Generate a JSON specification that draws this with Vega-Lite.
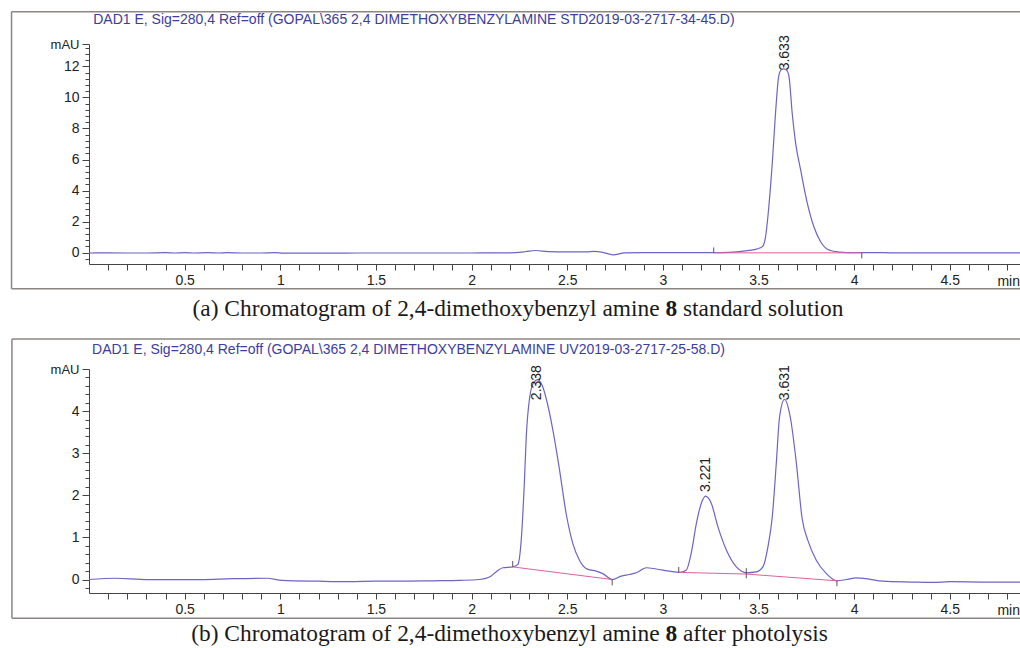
{
  "$schema": "https://vega.github.io/schema/vega-lite/v6.json",
  "background": "white",
  "padding": {"left": 10, "top": 11, "right": 0, "bottom": 0},
  "spacing": 105,
  "bounds": "flush",
  "config": {
    "view": {"stroke": null},
    "font": "Liberation Sans",
    "axis": {
      "grid": false,
      "title": null,
      "labelFont": "Liberation Sans",
      "labelFontSize": 14,
      "labelColor": "#222222",
      "domainColor": "#444444",
      "tickColor": "#444444",
      "labelFlush": false,
      "labelOverlap": false,
      "labelBound": false
    }
  },
  "datasets": {
    "traceA": [
      {"t": 0.0, "v": -0.03}, {"t": 0.1, "v": -0.02}, {"t": 0.2, "v": -0.03}, {"t": 0.3, "v": -0.03},
      {"t": 0.4, "v": -0.01}, {"t": 0.45, "v": -0.03}, {"t": 0.5, "v": -0.01}, {"t": 0.55, "v": -0.03},
      {"t": 0.62, "v": -0.01}, {"t": 0.68, "v": -0.03}, {"t": 0.72, "v": -0.01}, {"t": 0.8, "v": -0.03},
      {"t": 0.9, "v": -0.03}, {"t": 0.97, "v": -0.01}, {"t": 1.02, "v": -0.04}, {"t": 1.2, "v": -0.04},
      {"t": 1.4, "v": -0.03}, {"t": 1.6, "v": -0.03}, {"t": 1.8, "v": -0.03}, {"t": 2.0, "v": -0.03},
      {"t": 2.1, "v": -0.02}, {"t": 2.2, "v": -0.02}, {"t": 2.28, "v": 0.05}, {"t": 2.335, "v": 0.13},
      {"t": 2.4, "v": 0.06}, {"t": 2.5, "v": 0.04}, {"t": 2.6, "v": 0.04}, {"t": 2.64, "v": 0.07},
      {"t": 2.68, "v": 0.03}, {"t": 2.74, "v": -0.15}, {"t": 2.8, "v": -0.02}, {"t": 2.9, "v": 0.0},
      {"t": 3.0, "v": -0.01}, {"t": 3.1, "v": -0.01}, {"t": 3.2, "v": 0.0}, {"t": 3.3, "v": 0.0},
      {"t": 3.4, "v": 0.06}, {"t": 3.45, "v": 0.14}, {"t": 3.49, "v": 0.22}, {"t": 3.52, "v": 0.38},
      {"t": 3.537, "v": 1.03}, {"t": 3.554, "v": 2.97}, {"t": 3.572, "v": 5.77}, {"t": 3.589, "v": 9.0},
      {"t": 3.606, "v": 11.4}, {"t": 3.62, "v": 11.8}, {"t": 3.633, "v": 11.85}, {"t": 3.648, "v": 11.75},
      {"t": 3.66, "v": 11.3}, {"t": 3.676, "v": 9.0}, {"t": 3.694, "v": 7.06}, {"t": 3.72, "v": 5.34},
      {"t": 3.755, "v": 3.19}, {"t": 3.789, "v": 1.68}, {"t": 3.824, "v": 0.71}, {"t": 3.85, "v": 0.3},
      {"t": 3.876, "v": 0.13}, {"t": 3.92, "v": 0.03}, {"t": 3.964, "v": 0.0}, {"t": 4.05, "v": 0.0},
      {"t": 4.1, "v": 0.0}, {"t": 4.2, "v": -0.02}, {"t": 4.4, "v": -0.02}, {"t": 4.6, "v": -0.02},
      {"t": 4.867, "v": -0.02}
    ],
    "traceB": [
      {"t": 0.0, "v": 0.0}, {"t": 0.14, "v": 0.03}, {"t": 0.3, "v": 0.0}, {"t": 0.58, "v": 0.0},
      {"t": 0.75, "v": 0.02}, {"t": 0.93, "v": 0.03}, {"t": 1.01, "v": -0.02}, {"t": 1.2, "v": -0.04},
      {"t": 1.36, "v": -0.05}, {"t": 1.5, "v": -0.04}, {"t": 1.62, "v": -0.04}, {"t": 1.8, "v": -0.03},
      {"t": 1.94, "v": -0.02}, {"t": 2.04, "v": 0.0}, {"t": 2.094, "v": 0.06}, {"t": 2.128, "v": 0.18},
      {"t": 2.163, "v": 0.28}, {"t": 2.215, "v": 0.3}, {"t": 2.242, "v": 0.36}, {"t": 2.259, "v": 0.9},
      {"t": 2.275, "v": 2.2}, {"t": 2.286, "v": 3.4}, {"t": 2.303, "v": 4.3}, {"t": 2.325, "v": 4.68},
      {"t": 2.346, "v": 4.75}, {"t": 2.37, "v": 4.6}, {"t": 2.39, "v": 4.3}, {"t": 2.425, "v": 3.55},
      {"t": 2.46, "v": 2.6}, {"t": 2.495, "v": 1.55}, {"t": 2.512, "v": 1.17}, {"t": 2.529, "v": 0.86},
      {"t": 2.564, "v": 0.46}, {"t": 2.608, "v": 0.24}, {"t": 2.652, "v": 0.2}, {"t": 2.686, "v": 0.14},
      {"t": 2.735, "v": 0.0}, {"t": 2.782, "v": 0.08}, {"t": 2.826, "v": 0.12}, {"t": 2.861, "v": 0.16},
      {"t": 2.913, "v": 0.28}, {"t": 2.965, "v": 0.25}, {"t": 3.035, "v": 0.2}, {"t": 3.087, "v": 0.17},
      {"t": 3.122, "v": 0.22}, {"t": 3.148, "v": 0.62}, {"t": 3.175, "v": 1.33}, {"t": 3.201, "v": 1.81},
      {"t": 3.223, "v": 1.98}, {"t": 3.253, "v": 1.81}, {"t": 3.288, "v": 1.25}, {"t": 3.332, "v": 0.7},
      {"t": 3.384, "v": 0.3}, {"t": 3.439, "v": 0.16}, {"t": 3.488, "v": 0.18}, {"t": 3.523, "v": 0.3},
      {"t": 3.549, "v": 0.77}, {"t": 3.572, "v": 1.49}, {"t": 3.593, "v": 2.76}, {"t": 3.61, "v": 3.86},
      {"t": 3.636, "v": 4.28}, {"t": 3.666, "v": 3.86}, {"t": 3.698, "v": 2.76}, {"t": 3.728, "v": 1.45},
      {"t": 3.758, "v": 0.93}, {"t": 3.802, "v": 0.46}, {"t": 3.855, "v": 0.14}, {"t": 3.91, "v": -0.03},
      {"t": 3.959, "v": 0.0}, {"t": 4.01, "v": 0.04}, {"t": 4.062, "v": 0.02}, {"t": 4.15, "v": -0.04},
      {"t": 4.3, "v": -0.06}, {"t": 4.41, "v": -0.07}, {"t": 4.5, "v": -0.05}, {"t": 4.7, "v": -0.06},
      {"t": 4.867, "v": -0.06}
    ],
    "baseA": [
      {"seg": 1, "t": 3.266, "v": -0.02}, {"seg": 1, "t": 4.04, "v": -0.02}
    ],
    "baseB": [
      {"seg": 1, "t": 2.215, "v": 0.3}, {"seg": 1, "t": 2.735, "v": 0.0},
      {"seg": 2, "t": 3.083, "v": 0.17}, {"seg": 2, "t": 3.436, "v": 0.13}, {"seg": 2, "t": 3.91, "v": -0.03}
    ],
    "marksA": [
      {"t": 3.266, "v1": -0.02, "v2": 0.33}, {"t": 4.04, "v1": -0.02, "v2": -0.38}
    ],
    "marksB": [
      {"t": 2.215, "v1": 0.3, "v2": 0.44}, {"t": 2.735, "v1": 0.0, "v2": -0.14},
      {"t": 3.083, "v1": 0.17, "v2": 0.3}, {"t": 3.436, "v1": 0.03, "v2": 0.27},
      {"t": 3.91, "v1": -0.03, "v2": -0.16}
    ],
    "peaksA": [
      {"rt": 3.636, "h": 11.75, "label": "3.633"}
    ],
    "peaksB": [
      {"rt": 2.341, "h": 4.26, "label": "2.338"},
      {"rt": 3.223, "h": 2.08, "label": "3.221"},
      {"rt": 3.637, "h": 4.26, "label": "3.631"}
    ]
  },
  "vconcat": [
    {
      "width": 931,
      "height": 220,
      "layer": [
        {
          "data": {"name": "traceA"},
          "mark": {"type": "line", "color": "#6c64c6", "strokeWidth": 1.2, "interpolate": "monotone"},
          "encoding": {
            "x": {"field": "t", "type": "quantitative", "title": null,
              "scale": {"domain": [0, 4.867], "nice": false, "zero": false},
              "axis": {
                "values": [0.1,0.2,0.3,0.4,0.5,0.6,0.7,0.8,0.9,1.0,1.1,1.2,1.3,1.4,1.5,1.6,1.7,1.8,1.9,2.0,2.1,2.2,2.3,2.4,2.5,2.6,2.7,2.8,2.9,3.0,3.1,3.2,3.3,3.4,3.5,3.6,3.7,3.8,3.9,4.0,4.1,4.2,4.3,4.4,4.5,4.6,4.7,4.8],
                "tickCount": 500,
                "labelExpr": "abs(datum.value*2-round(datum.value*2))<0.001 ? format(datum.value,'~g') : ''",
                "labelOverlap": false,
                "tickSize": 6, "labelPadding": 3
              }},
            "y": {"field": "v", "type": "quantitative", "title": null,
              "scale": {"domain": [-0.74, 13.45], "nice": false, "zero": false},
              "axis": {
                "values": [-0.4,0,0.4,0.8,1.2,1.6,2,2.4,2.8,3.2,3.6,4,4.4,4.8,5.2,5.6,6,6.4,6.8,7.2,7.6,8,8.4,8.8,9.2,9.6,10,10.4,10.8,11.2,11.6,12,12.4,12.8,13.2,13.45],
                "tickCount": 500,
                "labelExpr": "datum.value>13.3 ? 'mAU' : (datum.value>=0 && abs(datum.value/2-round(datum.value/2))<0.001 ? format(datum.value,'~g') : '')",
                "labelOverlap": false,
                "tickSize": {"condition": {"test": "datum.value>13.3 || abs(datum.value/2-round(datum.value/2))<0.001", "value": 7}, "value": 4},
                "labelFontSize": {"condition": {"test": "datum.value>13.3", "value": 13}, "value": 14},
                "labelPadding": 3
              }}
          }
        },
        {
          "data": {"name": "baseA"},
          "mark": {"type": "line", "color": "#e0609e", "strokeWidth": 1},
          "encoding": {
            "x": {"field": "t", "type": "quantitative", "title": null},
            "y": {"field": "v", "type": "quantitative", "title": null},
            "detail": {"field": "seg"}
          }
        },
        {
          "data": {"name": "marksA"},
          "mark": {"type": "rule", "color": "#555555", "strokeWidth": 1},
          "encoding": {
            "x": {"field": "t", "type": "quantitative", "title": null},
            "y": {"field": "v1", "type": "quantitative", "title": null},
            "y2": {"field": "v2"}
          }
        },
        {
          "data": {"name": "peaksA"},
          "mark": {"type": "text", "angle": 270, "align": "left", "baseline": "middle", "fontSize": 14, "color": "#222222", "font": "Liberation Sans"},
          "encoding": {
            "x": {"field": "rt", "type": "quantitative", "title": null},
            "y": {"field": "h", "type": "quantitative", "title": null},
            "text": {"field": "label"}
          }
        },
        {
          "data": {"values": [{}]},
          "mark": {"type": "rule", "color": "#8c8681", "strokeWidth": 1.5},
          "encoding": {
            "x": {"datum": -0.405, "type": "quantitative"},
            "x2": {"datum": 4.867},
            "y": {"datum": 15.53, "type": "quantitative"}
          }
        },
        {
          "data": {"values": [{}]},
          "mark": {"type": "rule", "color": "#8c8681", "strokeWidth": 1.5},
          "encoding": {
            "x": {"datum": -0.405, "type": "quantitative"},
            "x2": {"datum": 4.867},
            "y": {"datum": -2.34, "type": "quantitative"}
          }
        },
        {
          "data": {"values": [{}]},
          "mark": {"type": "rule", "color": "#8c8681", "strokeWidth": 1.5},
          "encoding": {
            "x": {"datum": -0.405, "type": "quantitative"},
            "y": {"datum": 15.53, "type": "quantitative"},
            "y2": {"datum": -2.34}
          }
        },
        {
          "data": {"values": [{}]},
          "mark": {"type": "text", "text": "DAD1 E, Sig=280,4 Ref=off (GOPAL\\365 2,4 DIMETHOXYBENZYLAMINE STD2019-03-2717-34-45.D)", "align": "left", "baseline": "middle", "fontSize": 14, "color": "#3d3d9e", "font": "Liberation Sans"},
          "encoding": {
            "x": {"datum": 0.022, "type": "quantitative"},
            "y": {"datum": 14.97, "type": "quantitative"}
          }
        },
        {
          "data": {"values": [{}]},
          "mark": {"type": "text", "text": "min", "align": "right", "baseline": "middle", "fontSize": 14, "color": "#222222", "font": "Liberation Sans"},
          "encoding": {
            "x": {"datum": 4.867, "type": "quantitative"},
            "y": {"datum": -1.87, "type": "quantitative"}
          }
        },
        {
          "data": {"values": [{}]},
          "mark": {"type": "text", "text": "(a) Chromatogram of 2,4-dimethoxybenzyl amine", "align": "right", "baseline": "middle", "fontSize": 23.4, "dx": -11.7, "color": "#1a1a1a", "font": "Liberation Serif"},
          "encoding": {
            "x": {"datum": 3.044, "type": "quantitative"},
            "y": {"datum": -3.63, "type": "quantitative"}
          }
        },
        {
          "data": {"values": [{}]},
          "mark": {"type": "text", "text": "8", "align": "center", "baseline": "middle", "fontSize": 23.4, "fontWeight": "bold", "color": "#1a1a1a", "font": "Liberation Serif"},
          "encoding": {
            "x": {"datum": 3.044, "type": "quantitative"},
            "y": {"datum": -3.63, "type": "quantitative"}
          }
        },
        {
          "data": {"values": [{}]},
          "mark": {"type": "text", "text": "standard solution", "align": "left", "baseline": "middle", "fontSize": 23.4, "dx": 11.7, "color": "#1a1a1a", "font": "Liberation Serif"},
          "encoding": {
            "x": {"datum": 3.044, "type": "quantitative"},
            "y": {"datum": -3.63, "type": "quantitative"}
          }
        }
      ]
    },
    {
      "width": 931,
      "height": 224,
      "layer": [
        {
          "data": {"name": "traceB"},
          "mark": {"type": "line", "color": "#6c64c6", "strokeWidth": 1.2, "interpolate": "monotone"},
          "encoding": {
            "x": {"field": "t", "type": "quantitative", "title": null,
              "scale": {"domain": [0, 4.867], "nice": false, "zero": false},
              "axis": {
                "values": [0.1,0.2,0.3,0.4,0.5,0.6,0.7,0.8,0.9,1.0,1.1,1.2,1.3,1.4,1.5,1.6,1.7,1.8,1.9,2.0,2.1,2.2,2.3,2.4,2.5,2.6,2.7,2.8,2.9,3.0,3.1,3.2,3.3,3.4,3.5,3.6,3.7,3.8,3.9,4.0,4.1,4.2,4.3,4.4,4.5,4.6,4.7,4.8],
                "tickCount": 500,
                "labelExpr": "abs(datum.value*2-round(datum.value*2))<0.001 ? format(datum.value,'~g') : ''",
                "labelOverlap": false,
                "tickSize": 6, "labelPadding": 3
              }},
            "y": {"field": "v", "type": "quantitative", "title": null,
              "scale": {"domain": [-0.32, 5.0], "nice": false, "zero": false},
              "axis": {
                "values": [-0.2,0,0.2,0.4,0.6,0.8,1,1.2,1.4,1.6,1.8,2,2.2,2.4,2.6,2.8,3,3.2,3.4,3.6,3.8,4,4.2,4.4,4.6,4.8,5.0],
                "tickCount": 500,
                "labelExpr": "datum.value>4.9 ? 'mAU' : (datum.value>=0 && abs(datum.value-round(datum.value))<0.001 ? format(datum.value,'~g') : '')",
                "labelOverlap": false,
                "tickSize": {"condition": {"test": "datum.value>4.9 || abs(datum.value-round(datum.value))<0.001", "value": 7}, "value": 4},
                "labelFontSize": {"condition": {"test": "datum.value>4.9", "value": 13}, "value": 14},
                "labelPadding": 3
              }}
          }
        },
        {
          "data": {"name": "baseB"},
          "mark": {"type": "line", "color": "#e0609e", "strokeWidth": 1},
          "encoding": {
            "x": {"field": "t", "type": "quantitative", "title": null},
            "y": {"field": "v", "type": "quantitative", "title": null},
            "detail": {"field": "seg"}
          }
        },
        {
          "data": {"name": "marksB"},
          "mark": {"type": "rule", "color": "#555555", "strokeWidth": 1},
          "encoding": {
            "x": {"field": "t", "type": "quantitative", "title": null},
            "y": {"field": "v1", "type": "quantitative", "title": null},
            "y2": {"field": "v2"}
          }
        },
        {
          "data": {"name": "peaksB"},
          "mark": {"type": "text", "angle": 270, "align": "left", "baseline": "middle", "fontSize": 14, "color": "#222222", "font": "Liberation Sans"},
          "encoding": {
            "x": {"field": "rt", "type": "quantitative", "title": null},
            "y": {"field": "h", "type": "quantitative", "title": null},
            "text": {"field": "label"}
          }
        },
        {
          "data": {"values": [{}]},
          "mark": {"type": "rule", "color": "#8c8681", "strokeWidth": 1.5},
          "encoding": {
            "x": {"datum": -0.403, "type": "quantitative"},
            "x2": {"datum": 4.867},
            "y": {"datum": 5.71, "type": "quantitative"}
          }
        },
        {
          "data": {"values": [{}]},
          "mark": {"type": "rule", "color": "#8c8681", "strokeWidth": 1.5},
          "encoding": {
            "x": {"datum": -0.403, "type": "quantitative"},
            "x2": {"datum": 4.867},
            "y": {"datum": -0.92, "type": "quantitative"}
          }
        },
        {
          "data": {"values": [{}]},
          "mark": {"type": "rule", "color": "#8c8681", "strokeWidth": 1.5},
          "encoding": {
            "x": {"datum": -0.403, "type": "quantitative"},
            "y": {"datum": 5.71, "type": "quantitative"},
            "y2": {"datum": -0.92}
          }
        },
        {
          "data": {"values": [{}]},
          "mark": {"type": "text", "text": "DAD1 E, Sig=280,4 Ref=off (GOPAL\\365 2,4 DIMETHOXYBENZYLAMINE UV2019-03-2717-25-58.D)", "align": "left", "baseline": "middle", "fontSize": 14, "color": "#3d3d9e", "font": "Liberation Sans"},
          "encoding": {
            "x": {"datum": 0.016, "type": "quantitative"},
            "y": {"datum": 5.45, "type": "quantitative"}
          }
        },
        {
          "data": {"values": [{}]},
          "mark": {"type": "text", "text": "min", "align": "right", "baseline": "middle", "fontSize": 14, "color": "#222222", "font": "Liberation Sans"},
          "encoding": {
            "x": {"datum": 4.867, "type": "quantitative"},
            "y": {"datum": -0.75, "type": "quantitative"}
          }
        },
        {
          "data": {"values": [{}]},
          "mark": {"type": "text", "text": "(b) Chromatogram of 2,4-dimethoxybenzyl amine", "align": "right", "baseline": "middle", "fontSize": 23.4, "dx": -11.7, "color": "#1a1a1a", "font": "Liberation Serif"},
          "encoding": {
            "x": {"datum": 3.044, "type": "quantitative"},
            "y": {"datum": -1.3, "type": "quantitative"}
          }
        },
        {
          "data": {"values": [{}]},
          "mark": {"type": "text", "text": "8", "align": "center", "baseline": "middle", "fontSize": 23.4, "fontWeight": "bold", "color": "#1a1a1a", "font": "Liberation Serif"},
          "encoding": {
            "x": {"datum": 3.044, "type": "quantitative"},
            "y": {"datum": -1.3, "type": "quantitative"}
          }
        },
        {
          "data": {"values": [{}]},
          "mark": {"type": "text", "text": "after photolysis", "align": "left", "baseline": "middle", "fontSize": 23.4, "dx": 11.7, "color": "#1a1a1a", "font": "Liberation Serif"},
          "encoding": {
            "x": {"datum": 3.044, "type": "quantitative"},
            "y": {"datum": -1.3, "type": "quantitative"}
          }
        }
      ]
    }
  ]
}
